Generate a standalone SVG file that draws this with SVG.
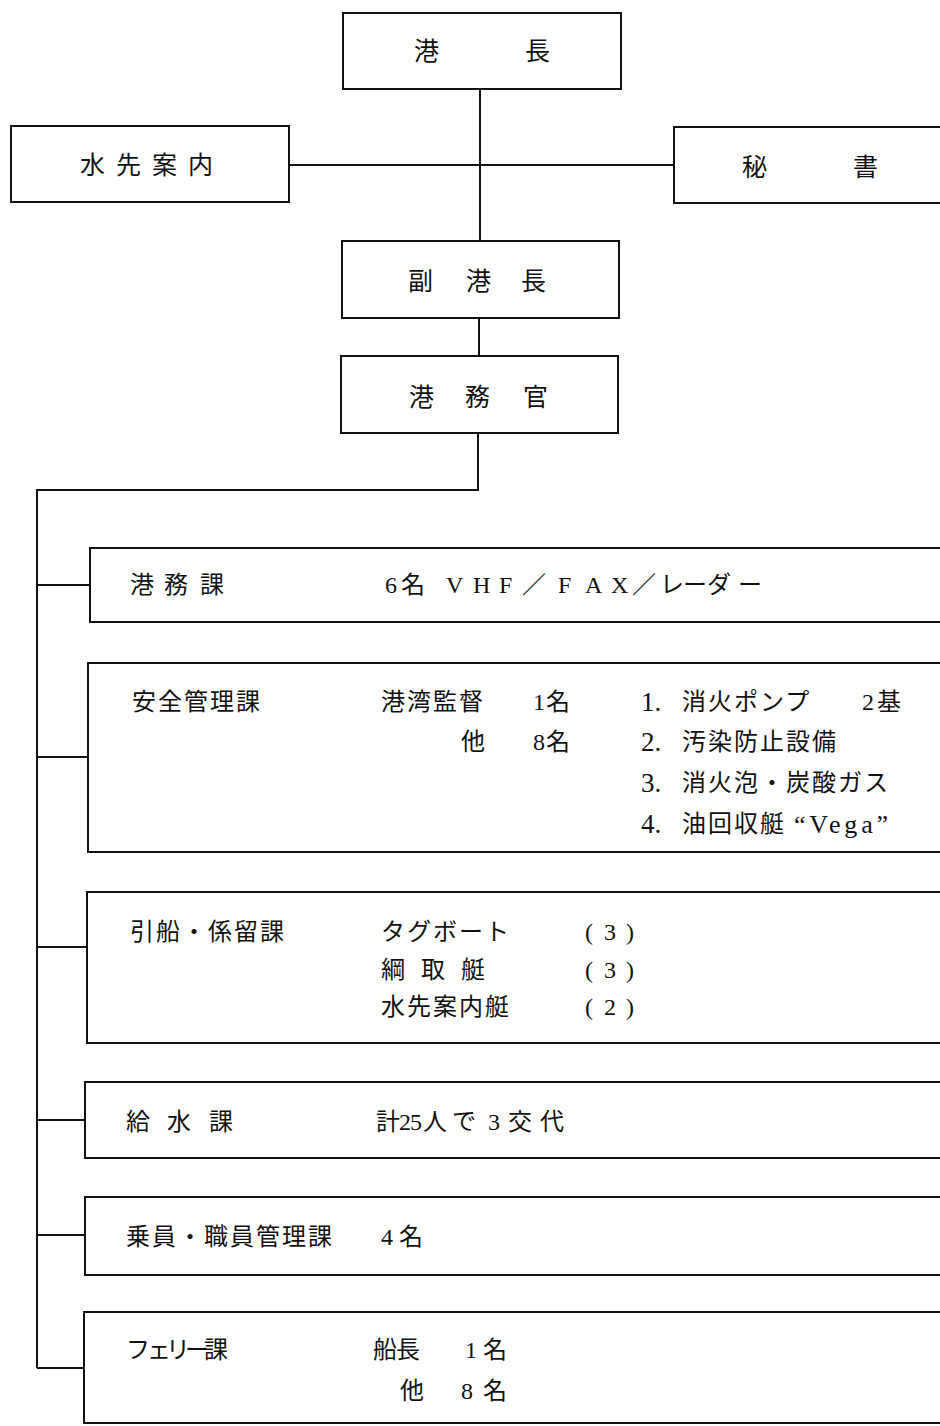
<svg xmlns="http://www.w3.org/2000/svg" width="940" height="1426" viewBox="0 0 940 1426">
<style>
  rect.box { fill: #ffffff; stroke: #111111; stroke-width: 2; }
  .conn line, .conn path { stroke: #111111; stroke-width: 2; fill: none; }
  text { font-family: "Liberation Serif", "Noto Sans CJK JP", serif; fill: #111111; }
  .big { font-size: 25px; }
  .t { font-size: 24px; letter-spacing: 2px; }
  .n { font-size: 24px; }
  .d { font-size: 27px; }
</style>
<rect x="0" y="0" width="940" height="1426" fill="#ffffff"/>
<g class="conn">
  <line x1="480" y1="89" x2="480" y2="241"/>
  <line x1="289" y1="165" x2="674" y2="165"/>
  <line x1="479" y1="318" x2="479" y2="356"/>
  <path d="M478 433 V490 H37 V1368"/>
  <line x1="37" y1="585" x2="90" y2="585"/>
  <line x1="37" y1="757" x2="88" y2="757"/>
  <line x1="37" y1="947" x2="87" y2="947"/>
  <line x1="37" y1="1120" x2="85" y2="1120"/>
  <line x1="37" y1="1235" x2="85" y2="1235"/>
  <line x1="37" y1="1368" x2="84" y2="1368"/>
</g>
<g id="kouchou">
  <rect class="box" x="343" y="13" width="278" height="76"/>
  <text class="big" x="414 525" y="60">港長</text>
</g>
<g id="mizusaki">
  <rect class="box" x="11" y="126" width="278" height="76"/>
  <text class="big" x="80 116 152 188" y="174">水先案内</text>
</g>
<g id="hisho">
  <rect class="box" x="674" y="127" width="300" height="76"/>
  <text class="big" x="742 853" y="176">秘書</text>
</g>
<g id="fukukouchou">
  <rect class="box" x="342" y="241" width="277" height="77"/>
  <text class="big" x="408 466 521" y="290">副港長</text>
</g>
<g id="koumukan">
  <rect class="box" x="341" y="356" width="277" height="77"/>
  <text class="big" x="409 465 523" y="406">港務官</text>
</g>
<g id="koumuka">
  <rect class="box" x="90" y="548" width="870" height="74"/>
  <text class="n" x="130 164 200" y="593">港務課</text>
  <text class="n" x="385 401 430 446 473 499 522 558 585 611 632 660 683 707 738" y="593">6名 VHF／FAX／レーダー</text>
</g>
<g id="anzen">
  <rect class="box" x="88" y="663" width="870" height="189"/>
  <text class="t" x="132" y="710">安全管理課</text>
  <text class="t" x="381" y="710">港湾監督</text>
  <text class="n" x="533 546" y="710">1名</text>
  <text class="n" x="461 520 533 546" y="750">他 8名</text>
  <text class="d" x="641" y="711">1.</text>
  <text class="t" x="682" y="710">消火ポンプ</text>
  <text class="n" x="862 877" y="710">2基</text>
  <text class="d" x="641" y="751">2.</text>
  <text class="t" x="682" y="750">汚染防止設備</text>
  <text class="d" x="641" y="792">3.</text>
  <text class="t" x="682" y="791">消火泡・炭酸ガス</text>
  <text class="d" x="641" y="833">4.</text>
  <text class="t" x="682" y="832">油回収艇</text>
  <text x="794" y="833" font-size="26" textLength="94" lengthAdjust="spacing">“Vega”</text>
</g>
<g id="eisen">
  <rect class="box" x="87" y="892" width="870" height="151"/>
  <text class="t" x="130" y="940">引船・係留課</text>
  <text class="t" x="381" y="940">タグボート</text>
  <text class="n" x="381 421 461" y="978">綱取艇</text>
  <text class="t" x="381" y="1015">水先案内艇</text>
  <text class="n" x="585 604 626" y="940">(3)</text>
  <text class="n" x="585 604 626" y="978">(3)</text>
  <text class="n" x="585 604 626" y="1015">(2)</text>
</g>
<g id="kyusui">
  <rect class="box" x="85" y="1082" width="870" height="76"/>
  <text class="n" x="126 167 209" y="1130">給水課</text>
  <text class="n" x="376 399 410 423 452 488 508 540" y="1130">計25人で3交代</text>
</g>
<g id="jouin">
  <rect class="box" x="85" y="1197" width="870" height="78"/>
  <text class="t" x="126" y="1245">乗員・職員管理課</text>
  <text class="n" x="381 399" y="1245">4名</text>
</g>
<g id="ferry">
  <rect class="box" x="84" y="1312" width="870" height="111"/>
  <text class="n" x="126 147 166 185 204" y="1358">フェリー課</text>
  <text class="n" x="373 396 465 483" y="1358">船長1名</text>
  <text class="n" x="400 440 461 483" y="1399">他 8名</text>
</g>
</svg>
